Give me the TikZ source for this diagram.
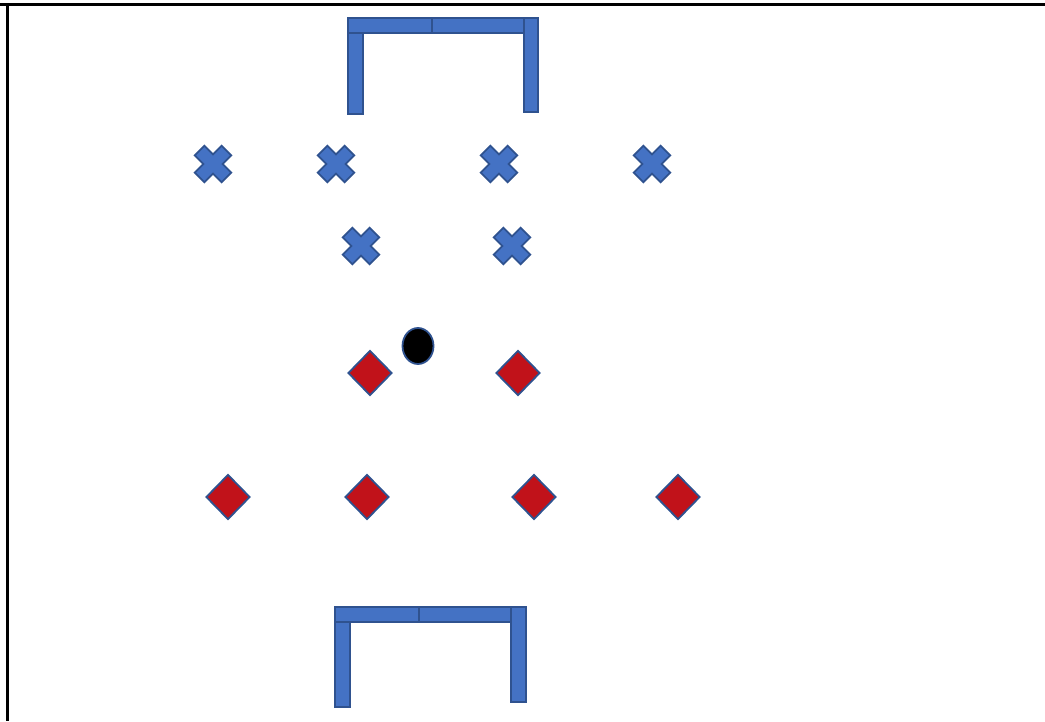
\documentclass[tikz,border=0pt]{standalone}
\usetikzlibrary{shapes.geometric}
\definecolor{kitblue}{HTML}{4472C4}
\definecolor{kitedge}{HTML}{2F528F}
\definecolor{kitred}{HTML}{C1121A}
\begin{document}
\begin{tikzpicture}[x=1pt,y=-1pt,
  post/.style={draw=kitedge,fill=kitblue,line width=1.8pt},
  attacker/.style={draw=kitedge,fill=kitblue,line width=1.8pt},
  defender/.style={diamond,draw=kitedge,fill=kitred,line width=1.8pt,
                   minimum width=44pt,minimum height=45pt,inner sep=0pt},
  ballnode/.style={ellipse,draw=kitedge,fill=black,line width=1.8pt,
                   minimum width=31pt,minimum height=36pt,inner sep=0pt}]
\useasboundingbox (0,0) rectangle (1045,721);

% frame
\draw[line width=2.4pt] (0,4.5) -- (1045,4.5);
\draw[line width=2.4pt] (7.5,4.5) -- (7.5,721);

% top goal
\draw[post] (348,33) rectangle (363,114);
\draw[post] (348,18) rectangle (432,33);
\draw[post] (432,18) rectangle (525,33);
\draw[post] (524,18) rectangle (538,112);

% bottom goal
\draw[post] (335,622) rectangle (350,707);
\draw[post] (335,607) rectangle (419,622);
\draw[post] (419,607) rectangle (512,622);
\draw[post] (511,607) rectangle (526,702);

% attackers (crosses)
\foreach \cx/\cy in {213/164,336/164,499/164,652/164,361/246,512/246}
  \draw[attacker,shift={(\cx,\cy)},rotate=45]
    (-19,-6.8) -- (-6.8,-6.8) -- (-6.8,-19) -- (6.8,-19) -- (6.8,-6.8)
    -- (19,-6.8) -- (19,6.8) -- (6.8,6.8) -- (6.8,19) -- (-6.8,19)
    -- (-6.8,6.8) -- (-19,6.8) -- cycle;

% defenders
\node[defender] (d1) at (370,373) {};
\node[defender] (d2) at (518,373) {};
\foreach \cx [count=\i from 3] in {228,367,534,678}
  \node[defender] (d\i) at (\cx,497) {};

% ball
\node[ballnode] (ball) at (418,346) {};
\end{tikzpicture}
\end{document}
